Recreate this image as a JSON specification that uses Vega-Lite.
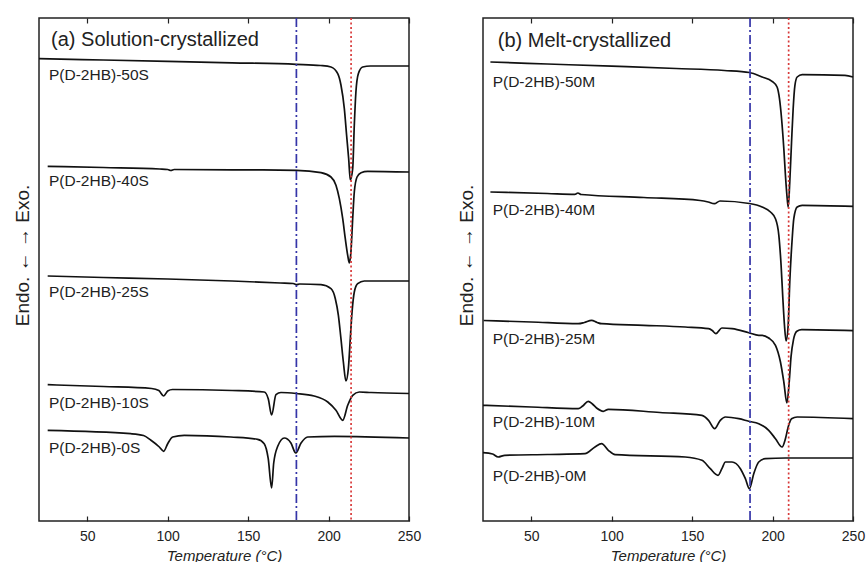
{
  "$schema": "https://vega.github.io/schema/vega-lite/v6.json",
  "padding": {"left": 12, "top": 16, "right": 0, "bottom": 0},
  "spacing": 34,
  "datasets": {
    "curves": [
      {"p":"a","s":"50S","T":20,"v":462.3},{"p":"a","s":"50S","T":60,"v":461},{"p":"a","s":"50S","T":100,"v":459.6},{"p":"a","s":"50S","T":140,"v":458.2},{"p":"a","s":"50S","T":180,"v":456.7},{"p":"a","s":"50S","T":195,"v":455.5},{"p":"a","s":"50S","T":201.5,"v":454},{"p":"a","s":"50S","T":205.7,"v":447.3},{"p":"a","s":"50S","T":207.7,"v":436},{"p":"a","s":"50S","T":209.8,"v":412.3},{"p":"a","s":"50S","T":211.2,"v":386},{"p":"a","s":"50S","T":212.5,"v":362.3},{"p":"a","s":"50S","T":213.5,"v":341},{"p":"a","s":"50S","T":215,"v":352.3},{"p":"a","s":"50S","T":216,"v":396},{"p":"a","s":"50S","T":217,"v":429},{"p":"a","s":"50S","T":218.5,"v":447.3},{"p":"a","s":"50S","T":221.2,"v":454},{"p":"a","s":"50S","T":226,"v":455},{"p":"a","s":"50S","T":250,"v":455},
      {"p":"a","s":"40S","T":25.4,"v":354.7},{"p":"a","s":"40S","T":60,"v":353.5},{"p":"a","s":"40S","T":95,"v":352},{"p":"a","s":"40S","T":100,"v":351.5},{"p":"a","s":"40S","T":102,"v":350.5},{"p":"a","s":"40S","T":104,"v":351.5},{"p":"a","s":"40S","T":140,"v":351.2},{"p":"a","s":"40S","T":180,"v":350.7},{"p":"a","s":"40S","T":195.3,"v":348.3},{"p":"a","s":"40S","T":201.5,"v":344},{"p":"a","s":"40S","T":204.6,"v":335.7},{"p":"a","s":"40S","T":206.7,"v":322.3},{"p":"a","s":"40S","T":208.8,"v":302.3},{"p":"a","s":"40S","T":210.4,"v":282.3},{"p":"a","s":"40S","T":211.9,"v":265.7},{"p":"a","s":"40S","T":212.9,"v":258},{"p":"a","s":"40S","T":213.9,"v":269},{"p":"a","s":"40S","T":215,"v":302.3},{"p":"a","s":"40S","T":216,"v":329},{"p":"a","s":"40S","T":217.7,"v":344},{"p":"a","s":"40S","T":220.2,"v":348.3},{"p":"a","s":"40S","T":224.3,"v":349.7},{"p":"a","s":"40S","T":250,"v":349},
      {"p":"a","s":"25S","T":25.4,"v":245},{"p":"a","s":"25S","T":60,"v":243.5},{"p":"a","s":"25S","T":100,"v":242},{"p":"a","s":"25S","T":140,"v":240},{"p":"a","s":"25S","T":170,"v":238},{"p":"a","s":"25S","T":178,"v":237.5},{"p":"a","s":"25S","T":180,"v":236.3},{"p":"a","s":"25S","T":182,"v":237},{"p":"a","s":"25S","T":195.3,"v":236.3},{"p":"a","s":"25S","T":201.5,"v":232.3},{"p":"a","s":"25S","T":204.2,"v":222.3},{"p":"a","s":"25S","T":206.1,"v":205.7},{"p":"a","s":"25S","T":207.7,"v":182.3},{"p":"a","s":"25S","T":209.2,"v":159},{"p":"a","s":"25S","T":210.8,"v":140},{"p":"a","s":"25S","T":212.3,"v":152.3},{"p":"a","s":"25S","T":213.5,"v":182.3},{"p":"a","s":"25S","T":214.6,"v":209},{"p":"a","s":"25S","T":216,"v":229},{"p":"a","s":"25S","T":218.1,"v":237.3},{"p":"a","s":"25S","T":222.2,"v":240},{"p":"a","s":"25S","T":250,"v":240},
      {"p":"a","s":"10S","T":25.4,"v":136.3},{"p":"a","s":"10S","T":60,"v":134.5},{"p":"a","s":"10S","T":90,"v":132.5},{"p":"a","s":"10S","T":94.5,"v":130.5},{"p":"a","s":"10S","T":97.5,"v":125},{"p":"a","s":"10S","T":100,"v":130},{"p":"a","s":"10S","T":103,"v":131.5},{"p":"a","s":"10S","T":140,"v":130.5},{"p":"a","s":"10S","T":160,"v":129},{"p":"a","s":"10S","T":162.5,"v":122.3},{"p":"a","s":"10S","T":164.6,"v":106},{"p":"a","s":"10S","T":167.3,"v":126.3},{"p":"a","s":"10S","T":170.4,"v":128.5},{"p":"a","s":"10S","T":180,"v":127.5},{"p":"a","s":"10S","T":191,"v":125},{"p":"a","s":"10S","T":199.5,"v":119},{"p":"a","s":"10S","T":204.6,"v":110.7},{"p":"a","s":"10S","T":208.8,"v":100.7},{"p":"a","s":"10S","T":211.9,"v":115.7},{"p":"a","s":"10S","T":215,"v":125.7},{"p":"a","s":"10S","T":219.1,"v":129},{"p":"a","s":"10S","T":226.4,"v":128.5},{"p":"a","s":"10S","T":250,"v":127.5},
      {"p":"a","s":"0S","T":25.4,"v":90.7},{"p":"a","s":"0S","T":77,"v":87.3},{"p":"a","s":"0S","T":85,"v":85.5},{"p":"a","s":"0S","T":89.6,"v":80.7},{"p":"a","s":"0S","T":94.8,"v":74},{"p":"a","s":"0S","T":97.5,"v":69.7},{"p":"a","s":"0S","T":100,"v":77.3},{"p":"a","s":"0S","T":103.1,"v":84},{"p":"a","s":"0S","T":110.3,"v":85.7},{"p":"a","s":"0S","T":139.3,"v":84},{"p":"a","s":"0S","T":155.9,"v":81.7},{"p":"a","s":"0S","T":160,"v":77.3},{"p":"a","s":"0S","T":162.5,"v":62.3},{"p":"a","s":"0S","T":164.6,"v":33},{"p":"a","s":"0S","T":165.9,"v":58},{"p":"a","s":"0S","T":168.4,"v":74.7},{"p":"a","s":"0S","T":172.5,"v":83},{"p":"a","s":"0S","T":176.6,"v":78},{"p":"a","s":"0S","T":179.6,"v":68},{"p":"a","s":"0S","T":182.9,"v":78},{"p":"a","s":"0S","T":187,"v":84},{"p":"a","s":"0S","T":203.6,"v":84.7},{"p":"a","s":"0S","T":250,"v":83},
      {"p":"b","s":"50M","T":24.6,"v":459},{"p":"b","s":"50M","T":60,"v":457},{"p":"b","s":"50M","T":100,"v":454.8},{"p":"b","s":"50M","T":140,"v":452.5},{"p":"b","s":"50M","T":170,"v":450.5},{"p":"b","s":"50M","T":185.6,"v":448.5},{"p":"b","s":"50M","T":193.5,"v":444},{"p":"b","s":"50M","T":199.7,"v":439.7},{"p":"b","s":"50M","T":202.8,"v":434},{"p":"b","s":"50M","T":204.3,"v":422.3},{"p":"b","s":"50M","T":205.6,"v":402.3},{"p":"b","s":"50M","T":207,"v":372.3},{"p":"b","s":"50M","T":208,"v":345.7},{"p":"b","s":"50M","T":209.1,"v":322.3},{"p":"b","s":"50M","T":209.7,"v":314},{"p":"b","s":"50M","T":210.7,"v":339},{"p":"b","s":"50M","T":211.8,"v":379},{"p":"b","s":"50M","T":212.8,"v":412.3},{"p":"b","s":"50M","T":213.9,"v":435.7},{"p":"b","s":"50M","T":215.3,"v":444},{"p":"b","s":"50M","T":218.4,"v":446.3},{"p":"b","s":"50M","T":245,"v":445.7},{"p":"b","s":"50M","T":250,"v":444},
      {"p":"b","s":"40M","T":24.6,"v":329},{"p":"b","s":"40M","T":60,"v":327.5},{"p":"b","s":"40M","T":77,"v":326.7},{"p":"b","s":"40M","T":79,"v":328},{"p":"b","s":"40M","T":81,"v":326.5},{"p":"b","s":"40M","T":120,"v":323.5},{"p":"b","s":"40M","T":155,"v":320.5},{"p":"b","s":"40M","T":160,"v":319},{"p":"b","s":"40M","T":163.8,"v":317.3},{"p":"b","s":"40M","T":167.3,"v":320},{"p":"b","s":"40M","T":185.6,"v":317.5},{"p":"b","s":"40M","T":193.5,"v":314},{"p":"b","s":"40M","T":198.7,"v":309},{"p":"b","s":"40M","T":201.8,"v":302.3},{"p":"b","s":"40M","T":203.9,"v":285.7},{"p":"b","s":"40M","T":205.3,"v":255.7},{"p":"b","s":"40M","T":206.4,"v":222.3},{"p":"b","s":"40M","T":207.4,"v":195.7},{"p":"b","s":"40M","T":208.4,"v":180},{"p":"b","s":"40M","T":209.7,"v":195.7},{"p":"b","s":"40M","T":210.7,"v":239},{"p":"b","s":"40M","T":212.2,"v":282.3},{"p":"b","s":"40M","T":213.2,"v":302.3},{"p":"b","s":"40M","T":215.3,"v":314},{"p":"b","s":"40M","T":218.4,"v":315.7},{"p":"b","s":"40M","T":250,"v":314.7},
      {"p":"b","s":"25M","T":20.4,"v":200.5},{"p":"b","s":"25M","T":50,"v":199},{"p":"b","s":"25M","T":79.2,"v":197.3},{"p":"b","s":"25M","T":83,"v":198.5},{"p":"b","s":"25M","T":87.5,"v":200.7},{"p":"b","s":"25M","T":91,"v":198.5},{"p":"b","s":"25M","T":93.7,"v":197.3},{"p":"b","s":"25M","T":120,"v":195.7},{"p":"b","s":"25M","T":145.7,"v":194},{"p":"b","s":"25M","T":160.2,"v":192.3},{"p":"b","s":"25M","T":162.5,"v":190.5},{"p":"b","s":"25M","T":164.8,"v":187.3},{"p":"b","s":"25M","T":168.5,"v":193},{"p":"b","s":"25M","T":174.8,"v":192.3},{"p":"b","s":"25M","T":185.2,"v":188.3},{"p":"b","s":"25M","T":191.4,"v":185.7},{"p":"b","s":"25M","T":193.5,"v":185.7},{"p":"b","s":"25M","T":197.6,"v":183},{"p":"b","s":"25M","T":201.8,"v":175.7},{"p":"b","s":"25M","T":204.9,"v":159},{"p":"b","s":"25M","T":207,"v":139},{"p":"b","s":"25M","T":208.9,"v":118},{"p":"b","s":"25M","T":210.3,"v":138},{"p":"b","s":"25M","T":211.5,"v":164.7},{"p":"b","s":"25M","T":213,"v":181.3},{"p":"b","s":"25M","T":215.1,"v":189.7},{"p":"b","s":"25M","T":218.2,"v":191.3},{"p":"b","s":"25M","T":250,"v":190.3},
      {"p":"b","s":"10M","T":20,"v":115.7},{"p":"b","s":"10M","T":50,"v":114},{"p":"b","s":"10M","T":79.2,"v":112.3},{"p":"b","s":"10M","T":82,"v":115},{"p":"b","s":"10M","T":85.4,"v":119.7},{"p":"b","s":"10M","T":88,"v":117},{"p":"b","s":"10M","T":90.6,"v":113},{"p":"b","s":"10M","T":94.8,"v":109.7},{"p":"b","s":"10M","T":97.9,"v":111.7},{"p":"b","s":"10M","T":130,"v":108.5},{"p":"b","s":"10M","T":156.1,"v":105.7},{"p":"b","s":"10M","T":160.2,"v":100.7},{"p":"b","s":"10M","T":164,"v":92.3},{"p":"b","s":"10M","T":167.5,"v":100.7},{"p":"b","s":"10M","T":170.7,"v":104},{"p":"b","s":"10M","T":179,"v":102.3},{"p":"b","s":"10M","T":185.2,"v":99.7},{"p":"b","s":"10M","T":191.4,"v":97.3},{"p":"b","s":"10M","T":197.6,"v":90.7},{"p":"b","s":"10M","T":201.8,"v":82.3},{"p":"b","s":"10M","T":205.9,"v":74},{"p":"b","s":"10M","T":208,"v":82.3},{"p":"b","s":"10M","T":209.7,"v":94},{"p":"b","s":"10M","T":211.8,"v":102.3},{"p":"b","s":"10M","T":215.3,"v":104},{"p":"b","s":"10M","T":250,"v":102.3},
      {"p":"b","s":"0M","T":20,"v":68.3},{"p":"b","s":"0M","T":26,"v":67},{"p":"b","s":"0M","T":29.4,"v":64},{"p":"b","s":"0M","T":33.5,"v":65.7},{"p":"b","s":"0M","T":60,"v":66.5},{"p":"b","s":"0M","T":83.4,"v":67.3},{"p":"b","s":"0M","T":89.6,"v":74},{"p":"b","s":"0M","T":93.7,"v":77.3},{"p":"b","s":"0M","T":97.9,"v":70.7},{"p":"b","s":"0M","T":102.1,"v":66.3},{"p":"b","s":"0M","T":145.7,"v":64},{"p":"b","s":"0M","T":156.1,"v":60.7},{"p":"b","s":"0M","T":161.3,"v":52.3},{"p":"b","s":"0M","T":166.1,"v":45.7},{"p":"b","s":"0M","T":168.5,"v":52.3},{"p":"b","s":"0M","T":170.7,"v":59},{"p":"b","s":"0M","T":174.8,"v":59},{"p":"b","s":"0M","T":180,"v":52.3},{"p":"b","s":"0M","T":183.1,"v":42.3},{"p":"b","s":"0M","T":185.6,"v":32.3},{"p":"b","s":"0M","T":188.3,"v":47.3},{"p":"b","s":"0M","T":191.4,"v":59},{"p":"b","s":"0M","T":195.6,"v":62.3},{"p":"b","s":"0M","T":208,"v":63},{"p":"b","s":"0M","T":250,"v":63}
    ],
    "refs": [
      {"p":"a","k":"onset","T":180},{"p":"a","k":"peak","T":214},
      {"p":"b","k":"onset","T":186},{"p":"b","k":"peak","T":210}
    ],
    "texts": [
      {"p":"a","kind":"title","t":"(a) Solution-crystallized","T":27.5,"v":481},
      {"p":"a","kind":"label","t":"P(D-2HB)-50S","T":26.2,"v":446.5},
      {"p":"a","kind":"label","t":"P(D-2HB)-40S","T":26.2,"v":340},
      {"p":"a","kind":"label","t":"P(D-2HB)-25S","T":26.2,"v":229},
      {"p":"a","kind":"label","t":"P(D-2HB)-10S","T":26.2,"v":118},
      {"p":"a","kind":"label","t":"P(D-2HB)-0S","T":26.2,"v":73},
      {"p":"b","kind":"title","t":"(b) Melt-crystallized","T":29.2,"v":480},
      {"p":"b","kind":"label","t":"P(D-2HB)-50M","T":26,"v":439},
      {"p":"b","kind":"label","t":"P(D-2HB)-40M","T":26,"v":311},
      {"p":"b","kind":"label","t":"P(D-2HB)-25M","T":26,"v":182},
      {"p":"b","kind":"label","t":"P(D-2HB)-10M","T":26,"v":99},
      {"p":"b","kind":"label","t":"P(D-2HB)-0M","T":26,"v":45}
    ]
  },
  "hconcat": [
    {
      "width": 370, "height": 503,
      "resolve": {"axis": {"x": "independent", "y": "independent"}},
      "layer": [
        {
          "data": {"name": "curves"},
          "transform": [{"filter": "datum.p == 'a'"}],
          "mark": {"type": "line", "interpolate": "monotone", "color": "#111", "strokeWidth": 1.7},
          "encoding": {
            "x": {"field": "T", "type": "quantitative", "scale": {"domain": [20, 250], "nice": false},
              "axis": {"orient": "bottom", "values": [50, 100, 150, 200, 250], "tickSize": -5, "tickWidth": 1.2, "labelPadding": 13, "labelFontSize": 14, "labelFlush": false, "domain": false, "grid": false, "title": "Temperature (°C)", "titleFontSize": 15, "titleFontStyle": "italic", "titleFontWeight": "normal", "titlePadding": 5, "tickColor": "#222", "labelColor": "#222", "titleColor": "#222"}},
            "y": {"field": "v", "type": "quantitative", "scale": {"domain": [0, 503], "nice": false, "zero": false},
              "axis": {"orient": "left", "labels": false, "ticks": false, "domain": false, "grid": false, "title": "Endo. ← → Exo.", "titleFontSize": 19, "titleFontWeight": "normal", "titlePadding": 7, "titleY": 237, "titleColor": "#222"}},
            "detail": {"field": "s"}
          }
        },
        {
          "data": {"name": "refs"},
          "transform": [{"filter": "datum.p == 'a'"}],
          "mark": {"type": "rule", "strokeWidth": 1.7},
          "encoding": {
            "x": {"field": "T", "type": "quantitative",
              "axis": {"orient": "top", "values": [50, 100, 150, 200, 250], "labels": false, "title": null, "tickSize": -5, "tickWidth": 1.2, "domain": false, "grid": false, "tickColor": "#222"}},
            "color": {"field": "k", "type": "nominal", "scale": {"domain": ["onset", "peak"], "range": ["#3535a8", "#d83a3a"]}, "legend": null},
            "strokeDash": {"field": "k", "type": "nominal", "scale": {"domain": ["onset", "peak"], "range": [[9, 3, 2, 3], [2, 2.5]]}, "legend": null}
          }
        },
        {
          "data": {"name": "texts"},
          "transform": [{"filter": "datum.p == 'a' && datum.kind == 'label'"}],
          "mark": {"type": "text", "align": "left", "baseline": "middle", "fontSize": 15.5, "color": "#222"},
          "encoding": {
            "x": {"field": "T", "type": "quantitative", "axis": null},
            "y": {"field": "v", "type": "quantitative", "axis": null},
            "text": {"field": "t"}
          }
        },
        {
          "data": {"name": "texts"},
          "transform": [{"filter": "datum.p == 'a' && datum.kind == 'title'"}],
          "mark": {"type": "text", "align": "left", "baseline": "middle", "fontSize": 20, "color": "#222"},
          "encoding": {
            "x": {"field": "T", "type": "quantitative", "axis": null},
            "y": {"field": "v", "type": "quantitative", "axis": null},
            "text": {"field": "t"}
          }
        }
      ]
    },
    {
      "width": 370, "height": 503,
      "resolve": {"axis": {"x": "independent", "y": "independent"}},
      "layer": [
        {
          "data": {"name": "curves"},
          "transform": [{"filter": "datum.p == 'b'"}],
          "mark": {"type": "line", "interpolate": "monotone", "color": "#111", "strokeWidth": 1.7},
          "encoding": {
            "x": {"field": "T", "type": "quantitative", "scale": {"domain": [20, 250], "nice": false},
              "axis": {"orient": "bottom", "values": [50, 100, 150, 200, 250], "tickSize": -5, "tickWidth": 1.2, "labelPadding": 13, "labelFontSize": 14, "labelFlush": false, "domain": false, "grid": false, "title": "Temperature (°C)", "titleFontSize": 15, "titleFontStyle": "italic", "titleFontWeight": "normal", "titlePadding": 5, "tickColor": "#222", "labelColor": "#222", "titleColor": "#222"}},
            "y": {"field": "v", "type": "quantitative", "scale": {"domain": [0, 503], "nice": false, "zero": false},
              "axis": {"orient": "left", "labels": false, "ticks": false, "domain": false, "grid": false, "title": "Endo. ← → Exo.", "titleFontSize": 19, "titleFontWeight": "normal", "titlePadding": 7, "titleY": 237, "titleColor": "#222"}},
            "detail": {"field": "s"}
          }
        },
        {
          "data": {"name": "refs"},
          "transform": [{"filter": "datum.p == 'b'"}],
          "mark": {"type": "rule", "strokeWidth": 1.7},
          "encoding": {
            "x": {"field": "T", "type": "quantitative",
              "axis": {"orient": "top", "values": [50, 100, 150, 200, 250], "labels": false, "title": null, "tickSize": -5, "tickWidth": 1.2, "domain": false, "grid": false, "tickColor": "#222"}},
            "color": {"field": "k", "type": "nominal", "scale": {"domain": ["onset", "peak"], "range": ["#3535a8", "#d83a3a"]}, "legend": null},
            "strokeDash": {"field": "k", "type": "nominal", "scale": {"domain": ["onset", "peak"], "range": [[9, 3, 2, 3], [2, 2.5]]}, "legend": null}
          }
        },
        {
          "data": {"name": "texts"},
          "transform": [{"filter": "datum.p == 'b' && datum.kind == 'label'"}],
          "mark": {"type": "text", "align": "left", "baseline": "middle", "fontSize": 15.5, "color": "#222"},
          "encoding": {
            "x": {"field": "T", "type": "quantitative", "axis": null},
            "y": {"field": "v", "type": "quantitative", "axis": null},
            "text": {"field": "t"}
          }
        },
        {
          "data": {"name": "texts"},
          "transform": [{"filter": "datum.p == 'b' && datum.kind == 'title'"}],
          "mark": {"type": "text", "align": "left", "baseline": "middle", "fontSize": 20, "color": "#222"},
          "encoding": {
            "x": {"field": "T", "type": "quantitative", "axis": null},
            "y": {"field": "v", "type": "quantitative", "axis": null},
            "text": {"field": "t"}
          }
        }
      ]
    }
  ],
  "config": {
    "font": "Liberation Sans",
    "view": {"stroke": "#222", "strokeWidth": 1.5},
    "axis": {"grid": false}
  }
}
